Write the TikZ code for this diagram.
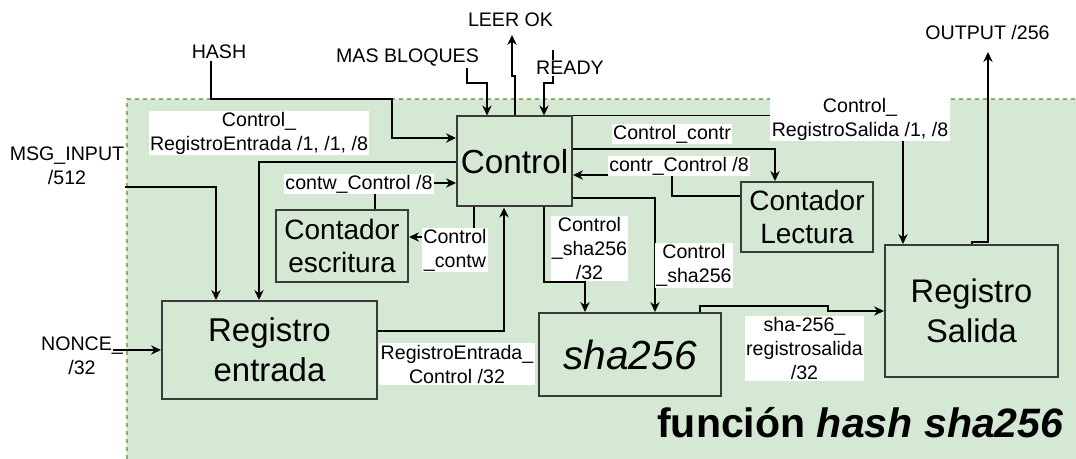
\documentclass[tikz,border=0pt]{standalone}
\usepackage{fontspec}
\setmainfont{Liberation Sans}
\usetikzlibrary{arrows.meta}
\definecolor{gfill}{HTML}{D5E8D4}
\definecolor{gline}{HTML}{82B366}
\definecolor{boxc}{HTML}{3A3A3A}
\newcommand{\labfont}{\fontsize{14.7}{18}\selectfont}
\begin{document}
\begin{tikzpicture}[x=0.75pt,y=-0.75pt,
  box/.style={draw=boxc, line width=1.5pt, fill=gfill, inner sep=0pt, align=center},
  lab/.style={fill=white, inner sep=1pt, align=center, font=\labfont},
  olab/.style={inner sep=1pt, align=center, font=\labfont},
  conn/.style={draw=black, line width=1.1pt},
  arr/.style={conn, -{Stealth[length=7.5pt,width=7pt,inset=2.5pt]}}]
\useasboundingbox (0,0) rectangle (1076,459);
% region
\fill[gfill] (127,99) rectangle (1076,459);
\draw[gline, line width=1.2pt, dash pattern=on 3pt off 3pt] (127,459) -- (127,99) -- (1076,99);
% boxes
\node[box, minimum width=86.25pt, minimum height=67.5pt, font=\fontsize{25}{30}\selectfont] (ctrl) at (514.5,161.5) {Control};
\node[box, minimum width=99pt, minimum height=54pt, font=\fontsize{21}{25}\selectfont] (contE) at (342,246) {Contador\\escritura};
\node[box, minimum width=99pt, minimum height=52.5pt, font=\fontsize{21}{25}\selectfont] (contL) at (807,217) {Contador\\Lectura};
\node[box, minimum width=161.25pt, minimum height=73.5pt, font=\fontsize{24.7}{30}\selectfont] (regE) at (269.5,350) {Registro\\entrada};
\node[box, minimum width=136.5pt, minimum height=62.25pt, font=\fontsize{30.5}{36}\selectfont\itshape] (sha) at (630,354.5) {sha256};
\node[box, minimum width=129.75pt, minimum height=99pt, font=\fontsize{24.5}{30}\selectfont] (regS) at (971.5,311) {Registro\\Salida};
% outer labels
\node[olab] (hash) at (219,52) {HASH};
\node[olab] (mas) at (407.5,58) {MAS BLOQUES};
\node[olab] (leer) at (510.5,20) {LEER OK};
\node[olab] (out) at (987.5,33) {OUTPUT /256};
\node[olab] (msg) at (67,166) {MSG\_INPUT\\/512};
\node[olab] (nonce) at (82,356) {NONCE\_\\/32};
\coordinate (leerTip) at (512,35);
\coordinate (outTip) at (988,52);
\coordinate (readyTop) at (553,50);
\coordinate (msgEnd) at (125,187);
\coordinate (nonceEnd) at (113,350);
% connectors
\draw[arr] (hash.south -| 211,0) -- (211,99) -- (392,99) |- (ctrl.west |- 0,138);
\draw[arr] (mas.south -| 467,0) |- (487,83) -- (ctrl.north -| 487,0);
\draw[arr] (ctrl.north -| 515,0) -- (515,76) -- (512,76) -- (leerTip);
\draw[arr] (readyTop) -- (553,83) -- (544,83) -- (ctrl.north -| 544,0);
\draw[arr] (ctrl.west |- 0,162) -| (regE.north -| 259,0);
\draw[arr] (msgEnd) -| (regE.north -| 216,0);
\draw[arr] (nonceEnd) -- (regE.west |- 0,350);
\draw[arr] (contE.north -| 375,0) |- (ctrl.west |- 0,183);
\draw[arr] (ctrl.south -| 474,0) |- (contE.east |- 0,237);
\draw[arr] (regE.east |- 0,331) -| (ctrl.south -| 504,0);
\draw[arr] (ctrl.south -| 544,0) |- (585,282) -- (sha.north -| 585,0);
\draw[arr] (ctrl.east |- 0,198) -| (sha.north -| 655,0);
\draw[arr] (ctrl.east |- 0,149) -| (contL.north -| 775,0);
\draw[arr] (contL.west |- 0,196) -| (672,175) -- (ctrl.east |- 0,175);
\draw[arr] (ctrl.north east) -| (regS.north -| 903,0);
\draw[arr] (sha.north -| 700,0) |- (828,306) |- (regS.west |- 0,311);
\draw[arr] (regS.north -| 972,0) |- (988,242) -- (outTip);
% inline labels
\node[lab] (lready) at (570,68) {READY};
\node[lab] (lcre) at (259,133) {Control\_\\RegistroEntrada /1, /1, /8};
\node[lab] (lcw) at (359,184) {contw\_Control /8};
\node[lab] (lctw) at (455,250) {Control\\\_contw};
\node[lab] (lrec) at (457,364) {RegistroEntrada\_\\Control /32};
\node[lab] (lcs32) at (589.5,248.5) {Control\\\_sha256\\/32};
\node[lab] (lcs) at (694,265.5) {Control\\\_sha256};
\node[lab] (lccr) at (672,134) {Control\_contr};
\node[lab] (lcrc) at (679,166) {contr\_Control /8};
\node[lab] (lcrs) at (860,119) {Control\_\\RegistroSalida /1, /8};
\node[lab] (lsrs) at (804.5,348.5) {sha-256\_\\registrosalida\\/32};
% title
\node[anchor=base east, inner sep=0pt, font=\fontsize{30.8}{36}\selectfont\bfseries] (title) at (1064,438) {función \textit{hash sha256}};
\end{tikzpicture}
\end{document}
